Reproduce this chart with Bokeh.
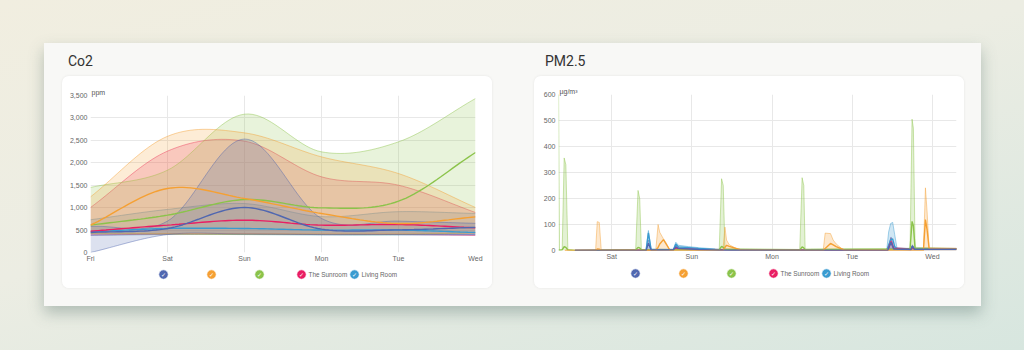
from bokeh.plotting import figure
from bokeh.models import (Column, Row, Div, FixedTicker, NumeralTickFormatter, Range1d)
from bokeh.core.properties import value
from bokeh.embed import file_html
from bokeh.resources import INLINE

FONT = "Liberation Sans"

# ---------------------------------------------------------------- rooms
room_labels = ["", "", "", "The Sunroom", "Living Room"]
room_colors = ["#5067b0", "#f5a033", "#8bc34a", "#e91e63", "#3a9bd0"]

# ---------------------------------------------------------------- Co2 (ppm), one reading set per day
days = ["Fri", "Sat", "Sun", "Mon", "Tue", "Wed"]
day_pos = [0, 1, 2, 3, 4, 5]
co2_ticks = [0, 500, 1000, 1500, 2000, 2500, 3000, 3500]

co2_avg_1 = [446, 535, 1003, 520, 505, 560]
co2_min_1 = [0, 400, 410, 400, 400, 400]
co2_max_1 = [580, 700, 2530, 760, 700, 650]

co2_avg_2 = [610, 1427, 1204, 870, 646, 795]
co2_min_2 = [430, 420, 420, 420, 420, 430]
co2_max_2 = [1240, 2590, 2667, 2132, 1760, 1003]

co2_avg_3 = [610, 832, 1180, 995, 1144, 2229]
co2_min_3 = [420, 410, 400, 400, 400, 440]
co2_max_3 = [1450, 1835, 3084, 2244, 2467, 3433]

co2_avg_4 = [475, 610, 720, 610, 624, 550]
co2_min_4 = [390, 410, 410, 400, 400, 380]
co2_max_4 = [1003, 2260, 2482, 1687, 1500, 892]

co2_avg_5 = [460, 535, 535, 500, 500, 446]
co2_min_5 = [380, 400, 400, 390, 390, 390]
co2_max_5 = [730, 960, 1090, 800, 910, 870]

# ---------------------------------------------------------------- PM2.5 (ug/m3), hours since Friday 00:00
pm_days = ["Sat", "Sun", "Mon", "Tue", "Wed"]
pm_day_hours = [24, 48, 72, 96, 120]
pm_ticks = [0, 100, 200, 300, 400, 500, 600]
pm_start, pm_end = 8.1, 127.2

pm_h_1 = [13, 34.3, 35.0, 35.8, 42.5, 43.2, 44.0, 50, 56, 106.6, 107.6, 108.4, 113.6, 114.0, 114.6, 127.2]
pm_avg_1 = [0, 0, 28, 2, 3, 14, 8, 4, 1, 0, 32, 6, 4, 16, 5, 5]
pm_max_1 = [0, 0, 40, 3, 4, 22, 12, 6, 2, 0, 52, 10, 6, 22, 8, 7]

pm_h_2 = [10, 19.2, 19.7, 20.3, 20.9, 37.2, 37.9, 38.4, 39.5, 40.3, 41.5, 57.3, 57.9, 58.4, 59.2,
          62.5, 87.3, 87.9, 89.5, 90.3, 91.2, 93.6, 117.3, 117.9, 118.4, 119.0, 127.2]
pm_max_2 = [0, 0, 111, 108, 0, 0, 100, 70, 45, 30, 0, 0, 90, 40, 22,
            0, 0, 67, 65, 40, 25, 0, 0, 241, 150, 10, 8]
pm_avg_2 = [0, 0, 6, 5, 0, 0, 12, 25, 42, 25, 0, 0, 12, 20, 16,
            3, 0, 8, 27, 22, 15, 2, 0, 119, 80, 8, 6]

pm_h_3 = [8.1, 8.4, 9.2, 9.8, 10.3, 10.9, 13, 31.2, 31.9, 32.4, 32.9, 56.2, 56.9, 57.4, 57.9,
          80.3, 81.0, 81.5, 81.9, 113.3, 113.9, 114.3, 114.8, 127.2]
pm_max_3 = [650, 2, 4, 356, 330, 4, 0, 4, 231, 200, 4, 4, 276, 250, 8,
            4, 280, 250, 6, 8, 505, 470, 12, 8]
pm_avg_3 = [2, 1, 2, 15, 12, 2, 0, 2, 12, 10, 2, 3, 16, 12, 4,
            2, 14, 10, 3, 5, 112, 95, 8, 6]

pm_h_4 = [13, 42.5, 43.2, 44.0, 50, 106.6, 107.6, 108.4, 113.6, 114.0, 114.6, 127.2]
pm_avg_4 = [0, 2, 10, 6, 3, 0, 35, 8, 4, 12, 5, 6]
pm_max_4 = [0, 3, 16, 9, 5, 0, 48, 12, 6, 18, 8, 8]

pm_h_5 = [13, 34.3, 35.0, 35.8, 42.5, 43.2, 44.0, 47, 50, 55, 60,
          106.3, 106.9, 107.5, 108.1, 108.7, 109.4, 113.6, 114.0, 114.6, 127.2]
pm_avg_5 = [0, 0, 68, 4, 3, 25, 14, 11, 8, 4, 1,
            0, 20, 42, 45, 15, 6, 5, 15, 6, 5]
pm_max_5 = [0, 0, 77, 6, 5, 32, 20, 15, 11, 6, 2,
            0, 72, 104, 108, 62, 9, 8, 20, 9, 7]

co2_series = [
    (co2_avg_1, co2_min_1, co2_max_1),
    (co2_avg_2, co2_min_2, co2_max_2),
    (co2_avg_3, co2_min_3, co2_max_3),
    (co2_avg_4, co2_min_4, co2_max_4),
    (co2_avg_5, co2_min_5, co2_max_5),
]
pm_series = [
    (pm_h_1, pm_avg_1, pm_max_1),
    (pm_h_2, pm_avg_2, pm_max_2),
    (pm_h_3, pm_avg_3, pm_max_3),
    (pm_h_4, pm_avg_4, pm_max_4),
    (pm_h_5, pm_avg_5, pm_max_5),
]

CARD_W, CARD_H, LEGEND_H = 430, 212, 22


def spline(xs, ys, steps=20):
    """Cubic Hermite path through the given points (smooth line rendering)."""
    n = len(xs)
    slopes = []
    for i in range(n):
        lo, hi = max(i - 1, 0), min(i + 1, n - 1)
        slopes.append((ys[hi] - ys[lo]) / (xs[hi] - xs[lo]))
    px, py = [], []
    for i in range(n - 1):
        h = xs[i + 1] - xs[i]
        for k in range(steps):
            t = k / steps
            h00 = 2 * t ** 3 - 3 * t ** 2 + 1
            h10 = t ** 3 - 2 * t ** 2 + t
            h01 = -2 * t ** 3 + 3 * t ** 2
            h11 = t ** 3 - t ** 2
            px.append(xs[i] + t * h)
            py.append(h00 * ys[i] + h10 * h * slopes[i] + h01 * ys[i + 1] + h11 * h * slopes[i + 1])
    px.append(xs[-1])
    py.append(ys[-1])
    return px, py


def make_chart(x_range, y_range, border, unit):
    left, right, top, bottom = border
    p = figure(width=CARD_W, height=CARD_H - LEGEND_H, x_range=x_range, y_range=y_range,
               output_backend="svg", toolbar_location=None,
               min_border_left=left, min_border_right=right,
               min_border_top=top, min_border_bottom=bottom,
               border_fill_color="white", background_fill_color="white",
               outline_line_color=None, title=unit)
    p.title.text_font = FONT
    p.title.text_font_size = "7px"
    p.title.text_font_style = "normal"
    p.title.text_color = "#555"
    p.title.align = "left"
    p.title.offset = 1
    p.title.standoff = 0
    for ax in (p.xaxis, p.yaxis):
        ax.axis_line_color = None
        ax.major_tick_line_color = None
        ax.minor_tick_line_color = None
        ax.major_tick_out = 0
        ax.major_tick_in = 0
        ax.minor_tick_out = 0
        ax.minor_tick_in = 0
        ax.major_label_text_font = FONT
        ax.major_label_text_font_size = "7px"
        ax.major_label_text_color = "#666"
        ax.major_label_standoff = 3
    p.xaxis.major_label_standoff = 2
    p.grid.grid_line_color = "#e8e8e8"
    p.grid.grid_line_width = 1
    return p


# legend strip under each chart: swatch centres across the card, in px
legend_slots = [101, 149, 197, 239, 292]


def make_legend(row_y, frame_left):
    # the column lines this strip's frame up with the chart frame above it,
    # so its px range starts at the chart's left border
    lg = figure(frame_width=CARD_W, frame_height=LEGEND_H,
                x_range=Range1d(frame_left, frame_left + CARD_W), y_range=Range1d(LEGEND_H, 0),
                output_backend="svg", toolbar_location=None,
                x_axis_type=None, y_axis_type=None,
                min_border=0, min_border_left=0, min_border_right=0,
                min_border_top=0, min_border_bottom=0, outline_line_color=None,
                border_fill_color="white", background_fill_color="white")
    lg.grid.visible = False
    ys = [row_y] * len(room_colors)
    lg.scatter(x=legend_slots, y=ys, marker="circle", size=9.5,
               fill_color=room_colors, line_color="white", line_width=0.8)
    lg.text(x=legend_slots, y=[row_y + 0.3] * len(room_colors), text=["\u2713"] * len(room_colors),
            text_font=value("DejaVu Sans"), text_font_size="6px", text_color="white",
            text_align="center", text_baseline="middle")
    named = [(x, t) for x, t in zip(legend_slots, room_labels) if t]
    lg.text(x=[x + 7 for x, _ in named], y=[row_y] * len(named), text=[t for _, t in named],
            text_font=value(FONT), text_font_size="6.4px", text_color="#666",
            text_align="left", text_baseline="middle")
    return lg


def make_card(chart, legend):
    return Column(chart, legend, width=CARD_W, height=CARD_H,
                  styles={"background-color": "white", "border-radius": "7px",
                          "overflow": "hidden",
                          "box-shadow": "0 0 3px rgba(0,0,0,0.08)"})


# ---------------------------------------------------------------- Co2 chart
co2 = make_chart(Range1d(0, 5), Range1d(0, 3500), (28, 17, 19, 14), "ppm")
co2.xaxis.ticker = FixedTicker(ticks=day_pos)
co2.xaxis.major_label_overrides = {i: d for i, d in zip(day_pos, days)}
co2.xgrid.ticker = FixedTicker(ticks=day_pos)
co2.yaxis.ticker = FixedTicker(ticks=co2_ticks)
co2.ygrid.ticker = FixedTicker(ticks=co2_ticks)
co2.yaxis.formatter = NumeralTickFormatter(format="0,0")

# later rooms first, so the first rooms sit on top
for (avg, lo, hi), color in reversed(list(zip(co2_series, room_colors))):
    sx, s_lo = spline(day_pos, lo)
    _, s_hi = spline(day_pos, hi)
    co2.varea(x=sx, y1=s_lo, y2=s_hi, fill_color=color, fill_alpha=0.2)
    co2.line(sx, s_hi, line_color=color, line_alpha=0.45, line_width=1)
    co2.line(sx, s_lo, line_color=color, line_alpha=0.45, line_width=1)
for (avg, lo, hi), color in reversed(list(zip(co2_series, room_colors))):
    sx, s_avg = spline(day_pos, avg)
    co2.line(sx, s_avg, line_color=color, line_width=1.4)

co2_card = make_card(co2, make_legend(8, 28))

# ---------------------------------------------------------------- PM2.5 chart
pm = make_chart(Range1d(pm_start, pm_end), Range1d(0, 600), (24, 8, 18, 16), "\u00b5g/m\u00b3")
pm.xaxis.ticker = FixedTicker(ticks=pm_day_hours)
pm.xaxis.major_label_overrides = {h: d for h, d in zip(pm_day_hours, pm_days)}
pm.xgrid.ticker = FixedTicker(ticks=pm_day_hours)
pm.yaxis.ticker = FixedTicker(ticks=pm_ticks)
pm.ygrid.ticker = FixedTicker(ticks=pm_ticks)

for (hours, avg, hi), color in reversed(list(zip(pm_series, room_colors))):
    pm.varea(x=hours, y1=[0] * len(hours), y2=hi, fill_color=color, fill_alpha=0.24)
    pm.line(hours, hi, line_color=color, line_alpha=0.45, line_width=1)
for (hours, avg, hi), color in reversed(list(zip(pm_series, room_colors))):
    pm.line(hours, avg, line_color=color, line_width=1.4)

pm_card = make_card(pm, make_legend(7, 24))

# ---------------------------------------------------------------- page
title_css = ("font-family:Roboto,sans-serif;font-size:14px;color:#333;"
             "padding-top:8px;white-space:nowrap;")
co2_title = Div(text=f"<div style='{title_css}padding-left:6px'>Co2</div>",
                width=430, height=33, margin=(0, 0, 0, 0))
pm_title = Div(text=f"<div style='{title_css}padding-left:11px'>PM2.5</div>",
               width=430, height=33, margin=(0, 0, 0, 0))

left_col = Column(co2_title, co2_card, width=430, height=263, margin=(0, 0, 0, 18))
right_col = Column(pm_title, pm_card, width=430, height=263, margin=(0, 0, 0, 42))
cards = Row(left_col, right_col, width=937, height=263)

panel = Column(cards, width=937, height=263, margin=(43, 0, 0, 44),
               styles={"background-color": "#f8f8f6",
                       "box-shadow": "0 7px 14px rgba(70,100,95,0.35)"})

page = Column(panel, width=1024, height=350,
              styles={"background": "linear-gradient(165deg, #f1eee0 0%, #ecede3 45%, #d7e6df 100%)"})

open("out.html", "w").write(file_html(page, INLINE, title="Air quality"))
